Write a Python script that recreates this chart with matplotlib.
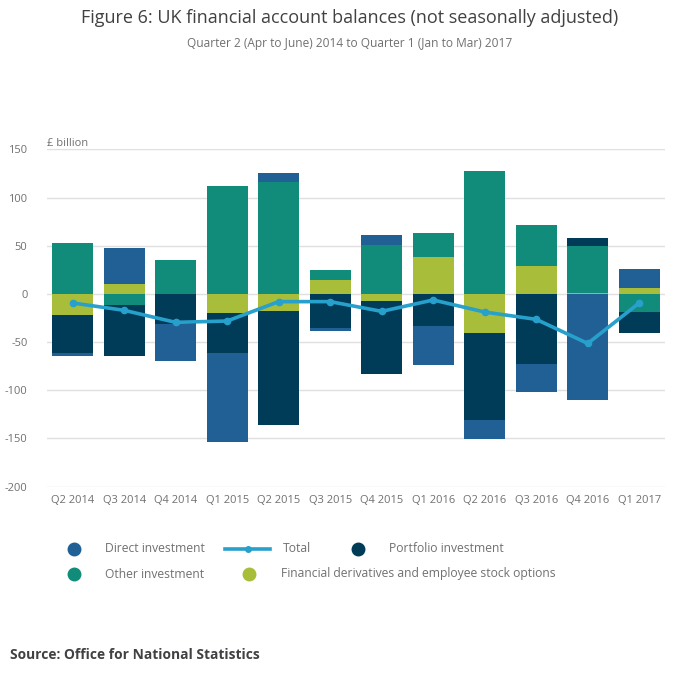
import numpy as np
import matplotlib
matplotlib.use("Agg")
import matplotlib.pyplot as plt
from matplotlib.lines import Line2D

plt.rcParams['font.family'] = ['Open Sans', 'DejaVu Sans']
plt.rcParams['axes.unicode_minus'] = False

# Data (£ billion)
quarters = ['Q2 2014', 'Q3 2014', 'Q4 2014', 'Q1 2015', 'Q2 2015', 'Q3 2015',
            'Q4 2015', 'Q1 2016', 'Q2 2016', 'Q3 2016', 'Q4 2016', 'Q1 2017']
direct = [-3.1, 37.5, -38.5, -91.7, 9.4, -3.1, 10.4, -39.6, -19.8, -29.2, -109.7, 19.8]
portfolio = [-39.6, -53.1, -31.6, -41.7, -117.7, -35.8, -75.0, -33.7, -89.6, -72.2, 8.3, -21.9]
other = [52.8, -11.8, 35.1, 112.2, 116.3, 10.4, 50.7, 25.0, 127.8, 42.7, 49.0, -19.1]
derivatives = [-22.2, 10.1, 0.0, -20.1, -18.1, 14.2, -7.6, 38.2, -41.0, 28.8, 0.7, 5.9]
total = [-9.4, -17.0, -29.5, -28.1, -8.0, -8.0, -18.1, -6.3, -18.8, -26.4, -51.4, -9.4]

c_direct = '#206095'
c_portfolio = '#003c57'
c_other = '#118c7b'
c_deriv = '#a8bd3a'
c_total = '#27a0cc'
grey = '#707071'

fig = plt.figure(figsize=(7.0, 6.82), dpi=100)
ax = fig.add_axes([0.067, 0.2864, 0.883, 0.4946])

x = np.arange(len(quarters))
pos_base = np.zeros(len(x))
neg_base = np.zeros(len(x))
# stacking order from zero outwards
for vals, col in [(derivatives, c_deriv), (other, c_other),
                  (portfolio, c_portfolio), (direct, c_direct)]:
    v = np.array(vals)
    base = np.where(v >= 0, pos_base, neg_base)
    ax.bar(x, v, 0.8, bottom=base, color=col, zorder=2)
    pos_base += np.where(v >= 0, v, 0)
    neg_base += np.where(v < 0, v, 0)

ax.plot(x, total, color=c_total, lw=2.6, marker='o', markersize=4.5, zorder=3)

ax.set_xlim(-0.5, len(x) - 0.5)
ax.set_ylim(-200, 150)
ax.set_yticks(np.arange(-200, 151, 50))
ax.set_xticks(x)
ax.set_xticklabels(quarters)
ax.tick_params(axis='both', length=0, labelsize=8, labelcolor=grey)
ax.tick_params(axis='x', pad=6)
ax.tick_params(axis='y', pad=14)
ax.grid(axis='y', color='#e0e0e0', lw=1, zorder=0)
for s in ax.spines.values():
    s.set_visible(False)

fig.text(0.067, 0.782, '£ billion', fontsize=8, color=grey, va='bottom')

fig.text(0.5, 1 - 18 / 682, 'Figure 6: UK financial account balances (not seasonally adjusted)',
         ha='center', va='center', fontsize=13, color='#414042')
fig.text(0.5, 1 - 44 / 682, 'Quarter 2 (Apr to June) 2014 to Quarter 1 (Jan to Mar) 2017',
         ha='center', va='center', fontsize=8.6, color=grey)

# legend
def dot(xp, yp, col):
    fig.add_artist(Line2D([xp], [yp], marker='o', color=col, markersize=9,
                          linestyle='none', transform=fig.transFigure))

row1 = 1 - 549 / 682
row2 = 1 - 574 / 682
lfs = 8.7
dot(74 / 700, row1, c_direct)
fig.text(105 / 700, row1, 'Direct investment', fontsize=lfs, color=grey, va='center')
fig.add_artist(Line2D([225 / 700, 270 / 700], [row1, row1], color=c_total, lw=2.6,
                      transform=fig.transFigure))
fig.add_artist(Line2D([247.5 / 700], [row1], marker='o', color=c_total, markersize=4,
                      transform=fig.transFigure))
fig.text(283 / 700, row1, 'Total', fontsize=lfs, color=grey, va='center')
dot(358 / 700, row1, c_portfolio)
fig.text(389 / 700, row1, 'Portfolio investment', fontsize=lfs, color=grey, va='center')
dot(74 / 700, row2, c_other)
fig.text(105 / 700, row2, 'Other investment', fontsize=lfs, color=grey, va='center')
dot(249 / 700, row2, c_deriv)
fig.text(281 / 700, row2, 'Financial derivatives and employee stock options',
         fontsize=lfs, color=grey, va='center')

fig.text(10 / 700, 1 - 655 / 682, 'Source: Office for National Statistics',
         fontsize=9.9, fontweight='bold', color='#414042', va='center')

fig.savefig('out.png', dpi=100)
